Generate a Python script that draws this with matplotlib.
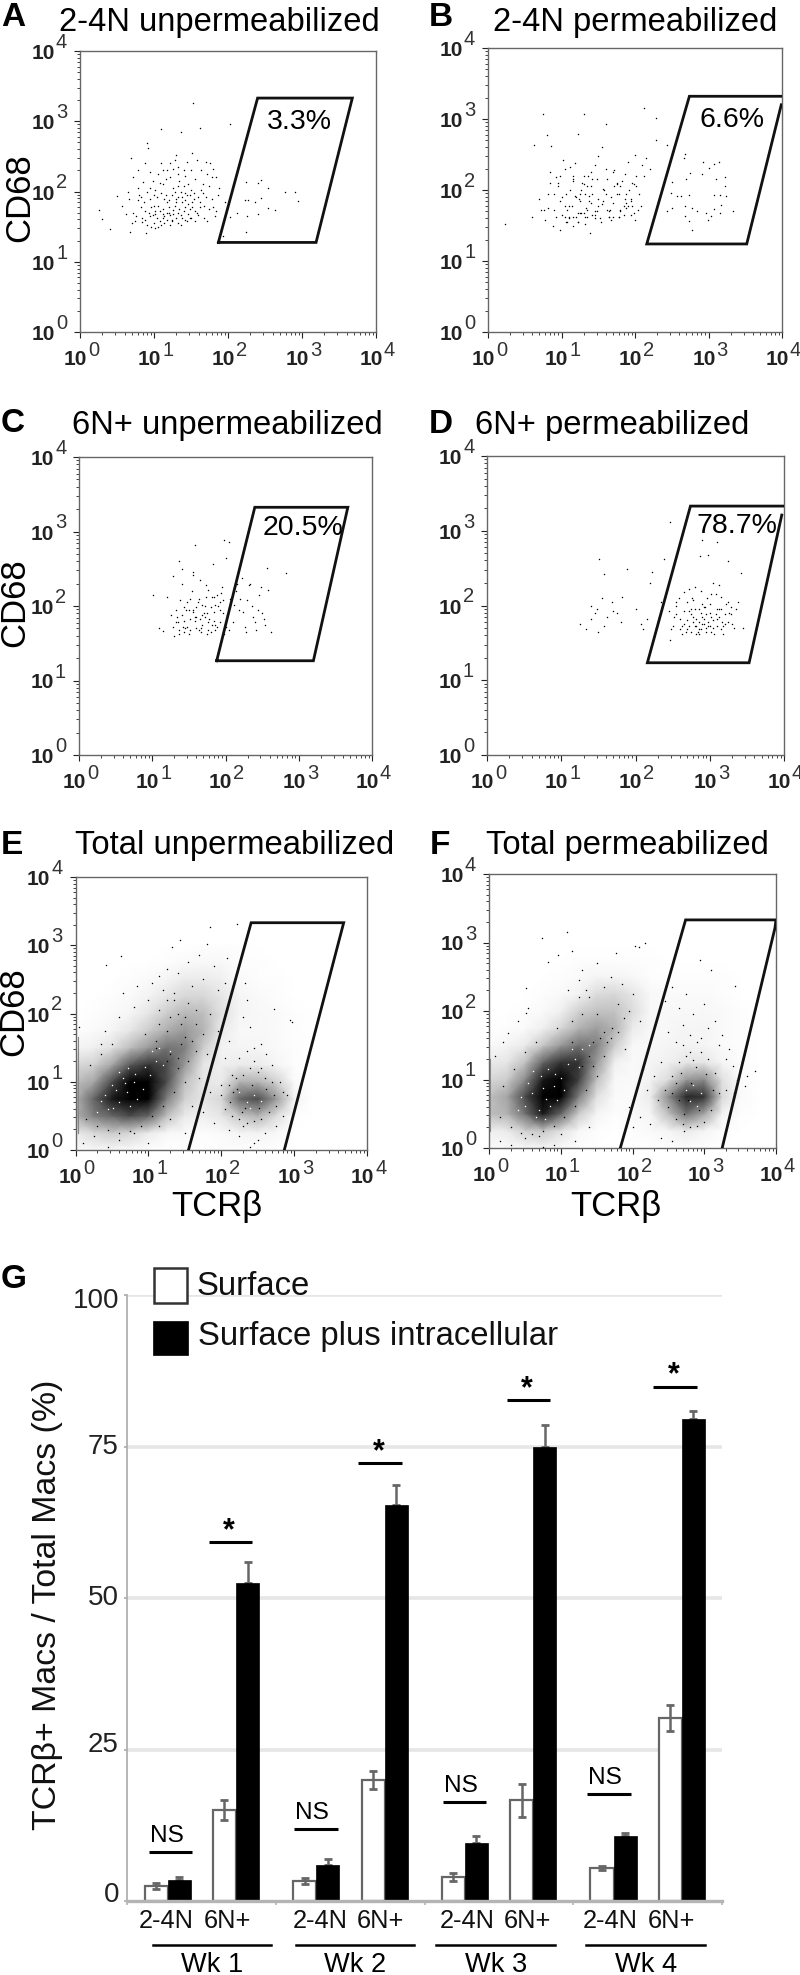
import numpy as np
import matplotlib
matplotlib.use("Agg")
import matplotlib.pyplot as plt
from matplotlib.lines import Line2D
from matplotlib.patches import Rectangle
from matplotlib.ticker import LogLocator, NullFormatter

plt.rcParams['font.family'] = ['Liberation Sans', 'DejaVu Sans']

W, H = 800, 1975

# ---- flow panels, dots, in decades (log10) ----
a_x = [1.53,2.03,1.09,1.62,1.37,0.25,0.30,0.41,0.67,0.89,
       0.50,0.69,0.91,0.92,0.57,0.65,0.62,0.79,0.85,0.72,
       0.80,0.86,0.93,0.98,1.00,0.95,1.05,1.10,0.88,0.94,
       1.06,1.12,1.16,1.20,1.24,1.28,1.33,1.02,1.14,1.18,
       1.22,1.26,1.30,1.34,1.38,1.42,1.46,1.50,1.25,1.32,
       1.36,1.40,1.44,1.48,1.52,1.56,1.60,1.64,1.68,1.72,
       1.76,1.80,1.84,1.88,1.70,1.74,1.78,1.82,1.66,1.58,
       1.18,1.22,1.28,1.34,1.40,1.46,1.52,1.28,1.36,1.44,
       1.08,1.00,0.94,0.82,0.76,0.70,1.10,1.16,1.42,1.50,
       2.24,2.41,2.45,2.54,2.77,2.90,2.94,2.23,2.27,2.36,
       2.45,2.54,2.64,2.26,2.40,2.24,2.12,2.03,1.93,1.96,
       1.04,1.12,1.20,1.30,1.38,1.48,1.56,1.62,1.10,1.24,
       0.96,1.02,1.08,1.14,1.18,1.26,1.32,1.40,1.46,1.54,
       0.84,0.90,0.78,0.88,0.98,1.04,1.30,1.58,1.64,1.70,
       0.72,0.78,0.84,0.90,0.96,1.02,1.08,1.14,1.20,1.26,
       1.32,1.38,1.44,1.50,1.56,1.62,1.68,1.74,1.80,1.86,
       0.66,0.74,0.82,0.88,0.94,1.00,1.06,1.12,1.18,1.24,
       1.30,1.36,1.42,1.48,1.54,1.60,1.66,1.72,1.78,1.84,
       1.02,1.12,1.22,1.32,1.42,1.52,1.12,1.22,1.32,1.42]
a_y = [3.26,2.96,2.89,2.90,2.85,1.74,1.61,1.47,1.43,1.41,
       1.93,2.48,2.69,2.62,1.80,2.00,1.68,2.30,2.13,2.20,
       1.95,1.85,1.70,2.15,1.55,2.05,1.80,2.40,1.60,1.90,
       2.25,2.10,1.95,1.70,1.58,2.45,2.35,1.48,1.65,1.85,
       2.20,2.05,1.90,1.75,1.62,1.88,2.10,2.30,1.68,1.55,
       2.00,1.72,1.95,1.62,2.55,2.18,1.92,2.02,1.80,2.25,
       2.40,2.32,2.20,2.05,2.42,1.75,1.90,1.65,2.10,1.70,
       1.60,1.52,1.80,2.15,2.30,1.68,1.78,2.00,1.66,2.42,
       1.72,1.80,2.28,1.78,1.65,1.55,1.98,2.18,1.60,1.62,
       2.14,2.12,2.16,2.05,2.00,1.99,1.87,1.88,1.88,1.85,
       1.91,1.76,1.74,1.65,1.68,1.43,1.69,1.64,1.36,1.85,
       1.62,1.75,1.78,1.62,1.85,1.95,1.58,1.78,1.52,1.95,
       1.50,2.02,1.58,1.90,2.30,1.73,2.25,2.08,1.82,1.98,
       1.56,1.52,1.88,1.72,1.66,1.92,2.52,2.45,2.30,1.92,
       1.70,2.05,1.62,2.00,1.78,1.68,2.12,1.55,1.88,2.32,
       1.70,1.92,1.58,2.02,1.72,1.85,1.62,2.08,1.78,1.95,
       1.90,1.58,1.92,2.40,1.65,1.95,1.50,1.62,1.70,1.60,
       1.85,1.52,2.22,1.75,1.90,1.66,1.98,1.58,2.20,1.72,
       1.72,1.68,1.66,1.92,1.78,1.85,2.30,2.40,2.08,1.98]

b_x = [0.75,1.31,2.12,2.29,1.61,0.23,1.39,0.80,0.63,2.29,
       2.43,1.22,0.98,2.68,2.67,2.92,3.07,3.14,2.75,2.91,
       3.00,2.50,2.69,3.10,3.22,3.22,2.49,2.57,2.63,2.73,
       3.07,3.16,3.24,2.50,2.43,2.68,2.77,2.84,2.97,3.07,
       3.17,3.34,3.16,2.68,2.73,2.78,2.99,3.03,0.60,0.70,
       0.78,0.85,0.90,0.95,1.00,1.05,1.10,1.15,1.20,1.25,
       1.30,1.35,1.40,1.45,1.50,1.55,1.60,1.65,1.70,1.75,
       1.80,1.85,1.90,1.95,2.00,2.05,2.10,0.82,0.88,0.92,
       0.98,1.02,1.08,1.12,1.18,1.22,1.28,1.32,1.38,1.42,
       1.48,1.52,1.58,1.62,1.68,1.72,1.78,1.82,1.88,1.92,
       1.98,2.02,2.15,2.20,1.05,1.15,1.25,1.35,1.45,1.55,
       1.65,1.75,1.85,1.95,0.72,0.86,1.10,1.20,1.30,1.40,
       1.50,1.60,1.70,1.80,1.90,2.00,1.12,1.22,1.32,1.42,
       0.95,1.05,1.15,1.25,1.35,1.68,1.78,1.88,1.98,2.08,
       0.76,0.84,0.92,1.00,1.08,1.16,1.24,1.32,1.40,1.48,
       1.56,1.64,1.72,1.80,1.88,1.96,2.04,2.12,0.82,0.90,
       0.98,1.06,1.14,1.22,1.30,1.38,1.46,1.54,1.62,1.70,
       1.78,1.86,1.94,2.02,1.10,1.18,1.26,1.34,1.42,1.50,
       1.06,1.16,1.26,1.36,1.46,1.56,1.66,1.76,1.86,1.96]
b_y = [3.07,3.07,3.15,3.01,2.93,1.52,1.39,2.77,2.64,2.71,
       2.64,2.79,1.44,2.51,2.45,2.39,2.37,2.39,2.24,2.23,
       2.31,2.11,2.15,2.15,2.18,2.05,1.96,1.91,1.91,1.93,
       1.93,1.93,1.91,1.75,1.70,1.77,1.75,1.70,1.68,1.73,
       1.79,1.70,1.68,1.63,1.56,1.44,1.58,1.63,1.62,1.88,
       1.58,2.25,1.72,2.05,1.65,2.30,1.78,2.15,1.62,1.95,
       2.20,1.72,2.05,1.60,2.48,1.80,2.30,1.70,2.25,1.95,
       2.05,1.78,2.40,1.85,2.50,1.95,2.35,1.95,1.50,2.18,
       1.85,2.42,1.55,2.00,2.38,1.68,2.10,1.52,1.85,1.65,
       2.15,1.60,2.00,1.72,1.90,2.28,1.62,2.12,1.75,2.00,
       1.68,2.20,2.45,2.30,1.78,1.50,1.85,2.05,1.70,2.60,
       1.62,2.10,1.65,1.88,1.72,2.62,1.60,1.90,1.68,1.82,
       1.78,1.95,1.62,1.72,1.78,1.58,2.32,1.55,1.95,2.15,
       2.10,1.62,2.20,1.68,1.62,1.58,1.95,1.82,2.08,1.78,
       1.72,2.10,1.62,1.90,1.72,2.12,1.88,1.62,2.25,1.70,
       1.85,1.62,2.05,1.70,1.95,2.10,1.72,2.20,1.75,1.95,
       2.20,1.55,1.78,1.55,2.08,1.92,1.65,1.55,2.15,1.82,
       1.62,2.22,1.65,2.05,1.62,1.92,2.00,1.75,1.95,1.88,
       1.95,1.62,1.68,2.20,2.35,2.02,1.72,2.08,1.88,1.78]

c_x = [1.59,1.98,2.05,2.00,1.37,2.83,1.01,1.09,1.15,2.57,
       1.83,1.20,1.28,1.32,1.36,1.40,1.44,1.48,1.52,1.56,
       1.60,1.64,1.68,1.72,1.76,1.80,1.84,1.88,1.92,1.96,
       1.30,1.34,1.38,1.42,1.46,1.50,1.54,1.58,1.62,1.66,
       1.70,1.74,1.78,1.82,1.86,1.90,1.94,1.98,2.02,2.06,
       1.45,1.55,1.65,1.75,1.85,1.95,1.35,1.25,2.10,2.14,
       2.18,2.22,2.26,2.30,2.34,2.38,2.42,2.46,2.50,2.54,
       2.58,2.62,2.20,2.24,2.28,2.32,2.36,2.40,2.44,2.48,
       2.52,2.05,2.12,2.16,1.55,1.65,1.75,1.85,1.28,1.40,
       1.32,1.40,1.48,1.56,1.64,1.72,1.80,1.88,1.96,1.44,
       1.52,1.60,1.68,1.76,1.84,1.92,1.36,1.44,1.52,1.60,
       1.68,1.76,1.84,1.92,2.00,1.50,1.58,1.66,1.74,1.82]
c_y = [2.82,2.88,2.86,2.65,2.61,2.44,2.15,1.70,1.66,2.51,
       2.57,2.12,1.72,1.95,1.62,2.30,1.80,2.05,1.68,2.42,
       1.85,2.10,1.75,2.00,2.22,1.65,1.92,2.15,1.78,2.08,
       1.60,1.85,2.08,1.72,1.95,1.62,2.20,1.80,2.05,1.70,
       1.90,2.28,1.82,2.12,1.68,2.00,2.18,1.62,1.88,2.10,
       1.70,1.95,1.82,1.90,2.02,2.25,1.78,1.88,1.78,2.20,
       1.95,2.38,1.72,2.08,2.30,1.85,1.68,2.15,1.90,1.75,
       2.22,1.65,2.10,1.92,1.65,2.28,2.00,1.78,1.95,2.25,
       1.82,1.68,2.02,2.30,2.45,2.35,1.62,1.75,2.40,2.50,
       1.78,1.88,1.72,1.92,1.68,1.85,1.98,1.72,1.90,1.98,
       1.82,1.70,2.02,1.78,2.12,1.95,1.68,1.65,2.10,1.98,
       1.88,1.68,1.80,2.05,1.72,1.95,1.85,1.65,2.12,1.75]

d_x = [2.46,1.51,1.88,1.57,2.89,3.10,2.87,2.98,3.25,3.42,
       2.47,2.38,1.25,1.33,1.40,1.45,1.50,1.55,1.62,1.68,
       1.75,1.82,1.40,1.48,1.58,1.70,1.80,2.00,2.08,2.15,
       2.20,2.28,2.35,2.10,2.22,2.32,2.40,2.45,2.50,2.55,
       2.60,2.65,2.70,2.75,2.80,2.85,2.90,2.95,3.00,3.05,
       3.10,3.15,3.20,3.25,3.30,3.35,2.48,2.52,2.58,2.62,
       2.68,2.72,2.78,2.82,2.88,2.92,2.98,3.02,3.08,3.12,
       3.18,3.22,3.28,3.32,3.38,2.70,2.80,2.90,3.00,3.10,
       2.75,2.85,2.95,3.05,3.15,2.65,2.72,2.82,2.92,3.02,
       3.12,3.45,2.62,2.78,2.88,2.98,3.08,3.18,3.28,2.55,
       2.55,2.65,2.75,2.85,2.95,3.05,3.15,3.25,2.60,2.70,
       2.80,2.90,3.00,3.10,3.20,2.78,2.84,2.88,2.94,3.02,
       2.82,2.86,2.92,2.96,3.06,2.72,2.76,3.12,3.16,3.26]
d_y = [3.12,2.62,2.49,2.42,2.87,2.85,2.66,2.67,2.60,2.43,
       1.54,2.62,1.75,1.68,2.00,1.90,1.65,2.10,1.85,2.05,
       1.90,2.12,1.82,1.95,1.72,1.92,1.78,1.95,1.75,1.82,
       2.30,1.70,2.05,1.68,2.45,1.85,2.12,1.92,1.72,2.05,
       1.82,2.18,1.68,1.95,2.25,1.78,2.02,1.70,1.90,2.30,
       1.72,2.12,1.88,2.05,1.75,1.95,1.68,1.85,2.10,1.72,
       1.65,1.92,2.08,1.82,1.68,1.98,1.78,1.65,2.15,1.85,
       1.72,2.02,1.88,1.70,2.05,1.80,1.72,1.85,2.02,1.95,
       1.65,1.95,1.65,1.80,1.68,1.92,2.22,1.62,1.75,2.15,
       2.28,1.70,1.62,1.85,2.20,1.72,1.88,1.62,1.98,2.00,
       1.88,1.75,1.88,1.68,1.88,1.70,1.95,1.78,1.68,2.05,
       1.95,1.75,1.72,1.82,1.75,1.78,1.65,1.90,1.98,1.85,
       1.72,1.62,1.82,2.10,1.62,1.72,2.10,1.95,1.78,1.90]

e_x = [1.84,2.22,1.44,1.32,0.42,0.62,1.80,2.08,2.33,2.72,
       2.97,2.95,1.55,1.70,1.90,1.25,1.15,1.05,0.85,0.65,
       1.95,2.05,1.75,1.60,1.40,1.20,1.00,0.80,0.60,0.40,
       1.85,1.95,2.10,2.30,2.40,2.55,2.45,2.35,2.62,2.70,
       2.05,2.15,2.00,1.85,1.70,1.60,1.75,1.90,2.10,2.25,
       2.50,2.75,2.85,2.90,2.60,2.45,2.30,2.40,2.55,1.50,
       1.10,1.25,1.40,1.55,1.65,1.35,1.50,1.15,1.30,1.45,
       0.10,0.25,0.45,0.60,0.80,1.00,1.15,1.30,0.05,0.35,
       0.15,0.30,0.45,0.60,0.75,0.90,1.05,1.20,1.35,1.50,
       0.20,0.35,0.50,0.95,1.10,1.25,1.40,1.55,1.65,1.75,
       1.15,1.30,1.45,1.60,1.35,1.50,1.65,1.80,1.25,1.40,
       2.05,2.15,2.25,2.35,2.45,2.55,2.65,2.75,2.85,2.10,
       2.20,2.30,2.40,2.50,2.60,2.70,2.80,2.25,2.35,2.45,
       2.00,2.12,2.22,2.32,2.42,2.52,2.62,2.72,2.16,2.28]
e_y = [3.27,3.31,3.08,2.98,2.71,2.84,3.02,2.82,2.44,2.06,
       1.88,1.90,2.75,2.85,2.70,2.65,2.55,2.45,2.40,2.30,
       2.35,2.45,2.50,2.40,2.60,2.35,2.20,2.10,1.95,1.75,
       2.00,1.75,1.60,1.95,1.80,1.55,1.50,2.20,1.40,1.25,
       1.35,1.10,0.95,0.85,1.05,0.65,0.55,0.40,0.30,0.20,
       0.15,0.35,0.50,0.80,0.25,0.10,0.35,0.05,1.20,0.25,
       1.60,1.75,2.00,2.15,1.85,2.20,1.65,2.05,1.40,1.85,
       0.10,0.20,0.05,0.15,0.25,0.10,0.35,0.45,1.80,1.55,
       0.45,0.35,0.30,0.25,0.28,0.35,0.50,0.65,0.85,1.00,
       1.25,1.40,1.55,1.70,1.50,1.30,1.20,1.30,1.45,1.70,
       1.85,1.95,1.55,1.60,2.30,1.95,2.05,1.40,2.20,1.35,
       0.60,0.50,0.45,0.40,0.42,0.45,0.55,0.65,0.85,0.95,
       1.05,1.10,1.20,1.15,1.05,1.00,1.00,1.35,1.45,1.30,
       0.80,0.70,0.90,0.62,0.95,0.62,0.90,0.80,0.85,0.55]
# gaps showing through the dark part of the cloud
e_gap_x = [0.40,0.50,0.60,0.70,0.80,0.45,0.55,0.65,0.75,0.85,
           0.35,0.60,0.72,0.92,1.02,0.30,0.52,0.68,0.82,0.96,
           1.10,1.20,1.30,1.05,1.15,2.25,2.35,2.45,2.55,2.40]
e_gap_y = [0.80,0.95,0.70,0.85,1.00,0.60,0.88,1.05,0.65,0.75,
           0.72,1.15,1.20,0.90,1.10,0.55,0.62,0.98,1.12,1.22,
           1.30,1.25,1.45,1.45,1.50,0.85,0.70,0.80,0.72,0.62]

f_x = [0.74,1.09,2.03,2.17,2.09,1.77,1.16,0.82,0.96,0.52,
       2.94,3.10,3.43,3.71,3.57,3.60,0.51,0.27,1.30,1.50,
       1.70,1.85,2.00,1.10,1.25,1.40,1.60,1.80,1.95,2.10,
       2.45,2.55,2.65,2.75,2.85,3.00,3.15,3.25,3.35,2.50,
       2.60,2.70,2.80,2.95,3.05,3.20,3.30,3.40,2.40,2.30,
       2.35,2.20,2.10,2.00,1.90,1.95,2.15,2.25,2.40,2.55,
       3.30,3.42,3.45,0.15,0.30,0.50,0.75,1.00,1.20,1.40,
       0.90,0.70,0.55,0.40,0.20,0.08,1.55,1.72,1.88,2.72,
       0.15,0.30,0.45,0.60,0.75,0.90,1.05,1.20,1.35,1.50,
       0.20,0.35,0.50,0.65,0.95,1.15,1.30,1.45,1.60,1.70,
       1.15,1.30,1.45,1.60,1.35,1.50,1.65,1.80,1.25,1.40,
       2.50,2.60,2.70,2.80,2.90,3.00,3.10,3.20,2.55,2.65,
       2.75,2.85,2.95,3.05,3.15,2.45,2.60,2.70,2.80,2.90,
       2.55,2.65,2.72,2.82,2.92,3.02,3.12,2.68,2.78,2.88]
f_y = [3.07,3.15,2.95,2.99,2.94,2.85,2.88,2.71,2.82,2.34,
       2.75,2.60,2.37,1.12,0.90,1.05,1.97,1.68,2.60,2.70,
       2.50,2.40,2.25,2.30,2.45,2.20,2.35,2.10,2.00,1.85,
       2.15,2.35,2.05,2.25,1.95,2.10,1.85,1.65,1.45,1.70,
       1.55,1.80,1.40,1.60,1.75,1.50,1.30,1.20,1.25,1.05,
       0.70,0.85,0.45,0.30,1.45,0.60,1.15,0.35,0.15,0.10,
       0.85,0.80,1.00,0.10,0.05,0.15,0.02,0.20,0.10,0.30,
       0.05,0.18,2.05,1.85,1.55,1.35,1.60,1.75,1.90,0.25,
       0.45,0.30,0.22,0.20,0.25,0.32,0.45,0.62,0.85,1.05,
       0.90,1.15,1.40,1.55,1.75,1.55,1.20,1.20,1.35,1.60,
       1.85,1.95,1.55,1.70,2.30,1.95,1.55,1.70,2.20,1.35,
       0.60,0.42,0.35,0.30,0.32,0.38,0.55,0.80,1.05,1.25,
       1.35,1.28,1.40,1.30,1.10,0.85,0.95,1.50,1.65,1.55,
       0.80,0.70,0.50,0.95,0.55,1.08,0.85,1.10,0.70,1.18]
f_gap_x = [0.50,0.60,0.70,0.80,0.90,0.55,0.65,0.75,0.85,0.95,
           0.45,0.72,0.82,1.00,1.10,0.40,0.62,0.78,0.92,1.05,
           1.20,1.30,1.40,1.15,1.25,2.75,2.85,2.95,2.80,2.90]
f_gap_y = [0.62,0.80,0.55,0.72,0.90,0.95,0.45,0.88,0.62,0.70,
           0.75,1.05,1.15,1.02,1.22,0.55,1.12,0.42,1.08,0.85,
           1.30,1.45,1.50,1.45,1.18,0.85,0.92,0.80,0.68,0.62]

# darkness (%) of the dense clouds, rows top (y=3.0) to bottom (y=0), steps of 0.25 decade
e_density = [
 [0,0,0,0,0,0,0,1,1,1,0,0,0,0,0,0,0],
 [0,0,0,0,0,1,2,3,3,1,1,0,0,0,0,0,0],
 [0,0,0,1,2,4,8,8,6,2,1,1,0,0,0,0,0],
 [0,0,1,2,5,10,16,16,10,4,2,1,0,0,0,0,0],
 [0,1,2,4,10,20,28,26,12,4,3,2,1,0,0,0,0],
 [1,2,4,10,20,32,40,30,8,3,3,2,1,0,0,0,0],
 [4,6,12,26,40,55,50,20,5,4,4,2,1,0,0,0,0],
 [15,18,35,65,80,70,40,10,6,8,8,4,1,0,0,0,0],
 [25,35,70,100,100,70,25,10,8,30,30,18,2,0,0,0,0],
 [30,60,90,100,100,50,18,10,16,60,70,40,5,0,0,0,0],
 [30,50,60,70,60,25,8,6,10,22,30,14,1,0,0,0,0],
 [8,15,20,16,8,3,2,1,2,4,5,3,0,0,0,0,0],
 [2,3,3,2,1,0,0,0,1,1,1,0,0,0,0,0,0]]
f_density = [
 [0,0,0,0,0,0,0,0,0,0,0,0,0,0,0,0,0],
 [0,0,0,0,0,1,1,1,1,1,0,0,0,0,0,0,0],
 [0,0,0,0,1,2,4,4,3,1,1,1,1,1,0,0,0],
 [0,0,0,1,2,5,14,16,10,3,2,2,2,1,0,0,0],
 [0,0,1,2,6,18,24,24,14,3,3,3,3,2,1,0,0],
 [0,1,2,6,16,30,38,30,8,3,3,4,4,2,1,0,0],
 [2,4,8,22,40,55,50,20,3,3,4,5,4,2,1,0,0],
 [8,10,24,60,80,80,40,6,2,4,6,10,10,4,1,0,0],
 [15,20,45,90,100,75,25,3,2,5,14,40,45,12,2,0,0],
 [25,35,70,100,100,50,12,2,2,8,45,85,80,15,2,0,0],
 [25,30,55,90,60,20,4,1,2,4,25,55,35,5,1,0,0],
 [6,8,18,22,12,3,1,0,1,2,4,8,4,1,0,0,0],
 [2,2,3,4,2,1,0,0,0,0,1,1,1,0,0,0,0]]

# gates, in decades
gate_a = ([1.87,2.40,3.68,3.19,1.87], [1.275,3.33,3.33,1.275,1.275])
gate_b = ([4.00,2.74,2.16,3.52,3.99], [3.32,3.32,1.24,1.24,3.20])
gate_c = ([1.88,2.40,3.67,3.20,1.88], [1.265,3.325,3.325,1.265,1.265])
gate_d = ([4.00,2.74,2.16,3.53,3.97], [3.33,3.33,1.234,1.234,3.21])
gate_e = ([1.55,2.41,3.68,2.865], [0,3.33,3.33,0])
gate_f = ([1.83,2.74,4.00,3.985,3.25], [0,3.33,3.33,3.21,0])

# ---- bar panel ----
weeks = ['Wk 1', 'Wk 2', 'Wk 3', 'Wk 4']
ploidy = ['2-4N', '6N+']
surface = [2.5, 15.0, 3.3, 20.0, 4.0, 16.6, 5.4, 30.2]
surface_err = [0.5, 1.6, 0.5, 1.5, 0.7, 2.7, 0.3, 2.2]
both = [3.4, 52.4, 6.0, 65.4, 9.5, 75.0, 10.7, 79.6]
both_err = [0.5, 3.6, 1.0, 3.2, 1.3, 3.5, 0.5, 1.3]
ns_heights = [8.1, 11.8, 16.3, 17.6]
star_heights = [59.2, 72.3, 82.6, 84.9]
y_ticks = [0, 25, 50, 75, 100]


def fx(x):
    return x / W


def fy(y):
    return 1 - y / H


def ptext(x, y, s, **kw):
    kw.setdefault('va', 'baseline')
    return fig.text(fx(x), fy(y), s, **kw)


def add_ax(l, t, r, b):
    return fig.add_axes([fx(l), fy(b), (r - l) / W, (b - t) / H])


def flow_panel(box, xs, ys, gate, pct=None, pct_pos=None, density=None, gaps=None):
    ax = add_ax(*box)
    ax.set_xscale('log')
    ax.set_yscale('log')
    ax.set_xlim(1, 1e4)
    ax.set_ylim(1, 1e4)
    if density is not None:
        rows = np.array(density, dtype=float)[::-1]
        gx = 10 ** (np.arange(rows.shape[1]) * 0.25)
        gy = 10 ** (np.arange(rows.shape[0]) * 0.25)
        ax.pcolormesh(gx, gy, rows, shading='gouraud', cmap='gray_r', vmin=0, vmax=100, rasterized=True)
    ax.scatter(10 ** np.array(xs), 10 ** np.array(ys), s=1.1, c='k', linewidths=0, zorder=3)
    if gaps is not None:
        ax.scatter(10 ** np.array(gaps[0]), 10 ** np.array(gaps[1]), s=1.1, c='white', linewidths=0, zorder=3)
    ax.plot(10 ** np.array(gate[0]), 10 ** np.array(gate[1]), color='#111111', lw=2.0,
            solid_joinstyle='miter', zorder=4)
    if pct:
        ax.text(10 ** pct_pos[0], 10 ** pct_pos[1], pct, fontsize=20.5, ha='center', va='center', zorder=5)

    for s in ax.spines.values():
        s.set_color('#666666')
        s.set_linewidth(1.0)
    for axis in (ax.xaxis, ax.yaxis):
        axis.set_major_locator(LogLocator(base=10, numticks=6))
        axis.set_minor_locator(LogLocator(base=10, subs=range(2, 10), numticks=6))
        axis.set_major_formatter(NullFormatter())
        axis.set_minor_formatter(NullFormatter())
    ax.tick_params(which='major', length=4, width=0.8, color='#222222')
    ax.tick_params(which='minor', length=2.4, width=0.6, color='#222222')

    for d in range(5):
        v = 10 ** d
        ax.annotate('10', (v, 1), xytext=(7, -33), textcoords='offset pixels', ha='right', va='baseline',
                    fontsize=15, fontweight='bold', color='#222222', annotation_clip=False)
        ax.annotate(str(d), (v, 1), xytext=(8, -24), textcoords='offset pixels', ha='left', va='baseline',
                    fontsize=14.5, color='#333333', annotation_clip=False)
        ax.annotate('10', (1, v), xytext=(-25, -8), textcoords='offset pixels', ha='right', va='baseline',
                    fontsize=15, fontweight='bold', color='#222222', annotation_clip=False)
        ax.annotate(str(d), (1, v), xytext=(-24, 3), textcoords='offset pixels', ha='left', va='baseline',
                    fontsize=14.5, color='#333333', annotation_clip=False)
    return ax


fig = plt.figure(figsize=(W / 100, H / 100), dpi=100)

flow_panel((80, 51, 376, 332), a_x, a_y, gate_a, '3.3%', (2.97, 2.995))
flow_panel((488, 48, 782, 332), b_x, b_y, gate_b, '6.6%', (3.315, 2.98))
flow_panel((79, 457, 372, 755), c_x, c_y, gate_c, '20.5%', (3.06, 3.05))
flow_panel((487, 456, 784, 755), d_x, d_y, gate_d, '78.7%', (3.37, 3.06))
ax_e = flow_panel((75.5, 877, 367, 1150), e_x, e_y, gate_e, density=e_density, gaps=(e_gap_x, e_gap_y))
ax_f = flow_panel((489, 874, 776, 1148), f_x, f_y, gate_f, density=f_density, gaps=(f_gap_x, f_gap_y))
ax_e.plot([10 ** 0.03, 10 ** 0.03], [10 ** 0.25, 10 ** 1.65], color='#888888', lw=0.8, zorder=3)
ax_f.plot([10 ** 0.02, 10 ** 0.02], [10 ** 0.25, 10 ** 1.3], color='#888888', lw=0.8, zorder=3)

titles = [('2-4N unpermeabilized', 59, 31), ('2-4N permeabilized', 492.7, 31),
          ('6N+ unpermeabilized', 72, 434), ('6N+ permeabilized', 475, 434),
          ('Total unpermeabilized', 75, 854), ('Total permeabilized', 486, 854)]
for s, x, y in titles:
    ptext(x, y, s, fontsize=23.6)

letters = [('A', 1, 26), ('B', 429, 26), ('C', 1, 432), ('D', 429, 433),
           ('E', 1, 854), ('F', 430, 854), ('G', 1, 1288)]
for s, x, y in letters:
    ptext(x, y, s, fontsize=24, fontweight='bold')

for x, y in [(19.5, 198), (14.5, 603), (14, 1012)]:
    ptext(x, y, 'CD68', fontsize=25, rotation=90, ha='center', va='center')
for x in (217, 616):
    ptext(x, 1216, 'TCRβ', fontsize=25, ha='center')

# bar panel
ax = add_ax(127.5, 1295, 722, 1901)
ax.set_xlim(0, 4)
ax.set_ylim(0, 100)
ax.patch.set_alpha(0)
centers = np.array([0.27, 0.73, 1.27, 1.73, 2.27, 2.73, 3.27, 3.73])
label_pos = [0.264, 0.67, 1.295, 1.70, 2.283, 2.688, 3.247, 3.658]
bw = 0.155
for t in y_ticks[1:]:
    ax.axhline(t, color='#e6e6e6', lw=2.6, zorder=0)
ax.bar(centers - bw / 2, surface, width=bw, color='white', edgecolor='#666666', linewidth=1.6, zorder=2)
ax.bar(centers + bw / 2, both, width=bw, color='black', edgecolor='black', linewidth=0.5, zorder=2)
ax.errorbar(centers - bw / 2, surface, yerr=surface_err, fmt='none', ecolor='#666666', elinewidth=1.8,
            capsize=3, capthick=2, zorder=3)
ax.errorbar(centers + bw / 2, both, yerr=[np.zeros(len(both)), both_err], fmt='none', ecolor='#666666',
            elinewidth=1.8, capsize=3, capthick=2, zorder=1)

for s in ('top', 'right'):
    ax.spines[s].set_visible(False)
ax.spines['left'].set_color('#aaaaaa')
ax.spines['left'].set_linewidth(1.2)
ax.spines['bottom'].set_color('#b4b4b4')
ax.spines['bottom'].set_linewidth(2.4)
ax.set_xticks(range(5))
ax.set_xticklabels([])
ax.set_yticks(y_ticks)
ax.set_yticklabels([])
ax.tick_params(axis='x', length=3, width=1.2, color='#b4b4b4')
ax.tick_params(axis='y', length=2, width=1.2, color='#aaaaaa')

for t, off in zip(y_ticks, [-6, -4, 0, 1, 6]):
    ax.annotate(str(t), (0, t), xytext=(-8.5, -off), textcoords='offset pixels', ha='right', va='center',
                fontsize=20, color='#222222', annotation_clip=False)

for i, h in enumerate(ns_heights):
    cx = [0.29, 1.267, 2.267, 3.24][i]
    ax.plot([cx - 0.146, cx + 0.146], [h, h], color='k', lw=2.2, solid_capstyle='butt', zorder=4)
    ax.annotate('NS', (cx - 0.025, h), xytext=(0, 10), textcoords='offset pixels', ha='center', va='baseline',
                fontsize=17.6)
for i, h in enumerate(star_heights):
    cx = [0.694, 1.70, 2.697, 3.685][i]
    ax.plot([cx - 0.146, cx + 0.146], [h, h], color='k', lw=2.2, solid_capstyle='butt', zorder=4)
    ax.annotate('*', (cx - 0.01, h), xytext=(0, 3), textcoords='offset pixels', ha='center', va='baseline',
                fontsize=22, fontweight='bold')

for i, c in enumerate(label_pos):
    ax.annotate(ploidy[i % 2], (c, 0), xytext=(0, -27), textcoords='offset pixels', ha='center', va='baseline',
                fontsize=18.3, color='#111111', annotation_clip=False)

week_spans = [(152.7, 271), (295.7, 414.3), (436, 555.3), (586, 705.3)]
for name, (x0, x1) in zip(weeks, week_spans):
    fig.add_artist(Line2D([fx(x0), fx(x1)], [fy(1944.6)] * 2, color='k', lw=1.8))
    ptext((x0 + x1) / 2 + 0.5, 1972, name, fontsize=19.6, ha='center')

ptext(48, 1605, 'TCRβ+ Macs / Total Macs (%)', fontsize=24.4, rotation=90, ha='center', va='center', color='#111111')

# legend
fig.add_artist(Rectangle((fx(154), fy(1303)), 33 / W, 35 / H, transform=fig.transFigure,
                         facecolor='white', edgecolor='#333333', lw=1.8))
fig.add_artist(Rectangle((fx(153), fy(1355)), 35 / W, 34 / H, transform=fig.transFigure,
                         facecolor='black', edgecolor='black', lw=0.5))
ptext(197, 1295, 'Surface', fontsize=23.7, color='#111111')
ptext(198, 1345, 'Surface plus intracellular', fontsize=23.7, color='#111111')

fig.savefig('out.png', dpi=100)
